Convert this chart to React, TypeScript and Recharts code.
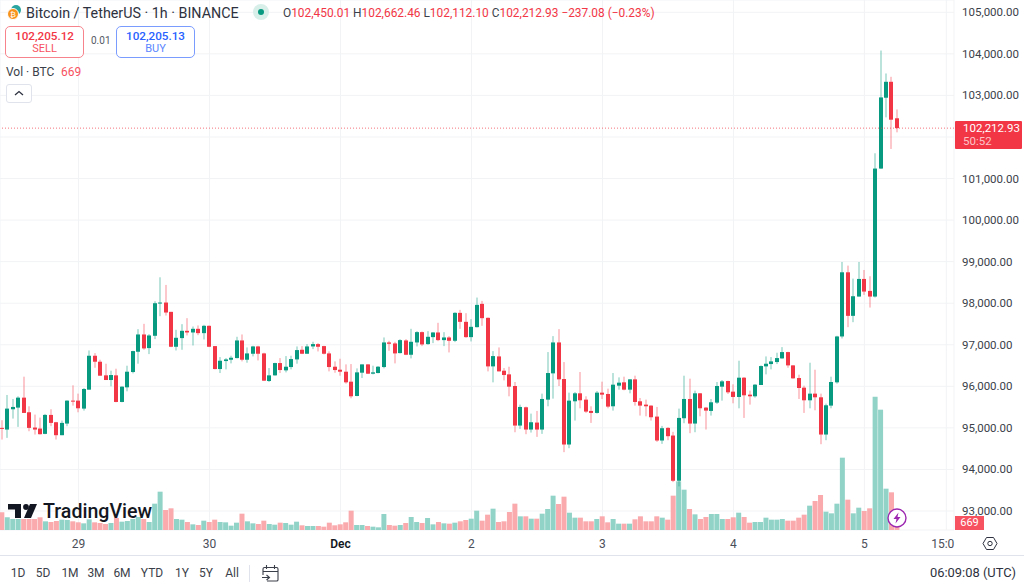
import React from 'react';
import { ComposedChart, Bar, Cell, XAxis, YAxis, CartesianGrid, ReferenceLine } from 'recharts';

// hourly candles, 28 Nov 10:00 -> 5 Dec 06:00 UTC
const opens = [
  95000, 94960, 95448, 95488, 95728, 95376, 95008, 94984, 94856, 95312,
  95136, 94824, 95104, 95656, 95656, 95464, 95920, 96736, 96592, 96264,
  96152, 96264, 95624, 95976, 96344, 96832, 97248, 96920, 97216, 97992,
  98016, 97792, 96952, 97160, 97336, 97296, 97384, 97280, 97456, 96968,
  96416, 96608, 96640, 96680, 97104, 96640, 96784, 96960, 96792, 96128,
  96264, 96560, 96384, 96464, 96648, 96880, 96784, 96960, 97016, 96968,
  96792, 96472, 96400, 96352, 96112, 95768, 96328, 96528, 96304, 96320,
  96464, 97056, 97032, 96800, 97104, 96760, 97056, 97304, 97016, 97184,
  97296, 97112, 97176, 97096, 97768, 97552, 97184, 97424, 97984, 97648,
  96480, 96720, 96376, 96288, 96008, 95056, 95496, 94960, 95128, 94960,
  95680, 96312, 97056, 96176, 94600, 95640, 95832, 95680, 95408, 95360,
  95848, 95816, 95520, 96016, 96096, 95920, 96168, 95640, 95560, 95536,
  95272, 94696, 95000, 94816, 93728, 95232, 95696, 95104, 95832, 95488,
  95408, 95608, 95992, 96128, 95872, 95744, 96208, 95800, 95760, 96032,
  96480, 96536, 96584, 96672, 96824, 96504, 96200, 95968, 95664, 95824,
  95736, 94840, 95536, 96096, 97200, 98744, 97696, 98160, 98584, 98296,
  98160, 101240, 102944, 103328, 102450.01,
];
const closes = [
  94976, 95464, 95504, 95728, 95360, 95000, 94960, 94848, 95312, 95120,
  94824, 95120, 95656, 95632, 95472, 95936, 96736, 96592, 96256, 96152,
  96272, 95624, 95992, 96352, 96848, 97248, 96912, 97224, 98000, 98016,
  97776, 96952, 97168, 97336, 97296, 97384, 97280, 97456, 96952, 96416,
  96616, 96648, 96688, 97104, 96640, 96792, 96960, 96784, 96136, 96264,
  96560, 96392, 96472, 96656, 96872, 96784, 96960, 97016, 96952, 96784,
  96464, 96392, 96352, 96096, 95760, 96336, 96528, 96304, 96336, 96472,
  97056, 97024, 96792, 97112, 96760, 97072, 97304, 97008, 97192, 97296,
  97112, 97176, 97096, 97768, 97552, 97184, 97432, 97960, 97640, 96480,
  96728, 96360, 96272, 95992, 95056, 95504, 94960, 95136, 94960, 95696,
  96320, 97056, 96168, 94600, 95656, 95832, 95664, 95392, 95360, 95848,
  95800, 95512, 96040, 96088, 95920, 96168, 95624, 95536, 95520, 95256,
  94696, 94992, 94800, 93728, 95240, 95696, 95104, 95832, 95472, 95416,
  95616, 96008, 96120, 95856, 95744, 96208, 95784, 95760, 96040, 96488,
  96544, 96600, 96680, 96824, 96504, 96192, 95960, 95664, 95824, 95736,
  94840, 95544, 96104, 97200, 98744, 97696, 98168, 98584, 98280, 98160,
  101240, 102952, 103328, 102416, 102212.93,
];
const highs = [
  95184, 95792, 95696, 95760, 96232, 95520, 95320, 95248, 95336, 95448,
  95144, 95176, 95664, 96024, 95824, 95960, 96864, 96800, 96640, 96544,
  96376, 96424, 96000, 96496, 96856, 97376, 97504, 97256, 98048, 98624,
  98440, 97792, 97360, 97496, 97640, 97440, 97464, 97480, 97464, 96968,
  96704, 96680, 96736, 97192, 97248, 96936, 96976, 96976, 96808, 96440,
  96568, 96680, 96728, 96736, 96960, 96968, 97016, 97072, 97040, 96976,
  96840, 96600, 96664, 96528, 96536, 96432, 96528, 96536, 96496, 96488,
  97176, 97096, 97072, 97136, 97136, 97384, 97328, 97320, 97328, 97304,
  97528, 97304, 97208, 97784, 97840, 97760, 97616, 98136, 98056, 97656,
  96848, 96936, 96440, 96472, 96104, 95560, 95512, 95344, 95408, 95824,
  96824, 97208, 97376, 96584, 95848, 95864, 96344, 95760, 95520, 95888,
  96112, 95944, 96320, 96216, 96232, 96176, 96256, 95720, 95680, 95544,
  95504, 95048, 95016, 94904, 95464, 96256, 96184, 95896, 95840, 95504,
  95696, 96104, 96152, 96136, 96048, 96616, 96224, 95896, 96056, 96504,
  96720, 96704, 96808, 96944, 96832, 96512, 96280, 96016, 96568, 96400,
  95824, 95584, 96232, 97216, 98992, 98904, 98592, 98992, 98800, 98648,
  101608, 104080, 103528, 103448, 102662.46,
];
const lows = [
  94720, 94760, 95224, 95024, 95360, 94920, 94840, 94840, 94848, 95040,
  94720, 94824, 95040, 95536, 95376, 95416, 95920, 96448, 96256, 96152,
  96000, 95616, 95616, 95880, 96312, 96544, 96880, 96776, 97136, 97688,
  97704, 96944, 96864, 96880, 97224, 96984, 97232, 97128, 96944, 96408,
  96320, 96408, 96552, 96672, 96600, 96568, 96720, 96624, 96128, 96104,
  96256, 96320, 96336, 96408, 96544, 96776, 96784, 96896, 96840, 96768,
  96360, 96328, 96256, 96064, 95712, 95760, 96200, 96296, 96288, 96312,
  96432, 96856, 96552, 96792, 96752, 96672, 96960, 96968, 97000, 97040,
  97088, 96968, 96816, 97064, 97384, 97168, 97080, 97416, 97456, 96360,
  96096, 96360, 96144, 95760, 94896, 94976, 94848, 94888, 94784, 94856,
  95520, 95704, 96008, 94416, 94512, 95176, 95472, 95360, 95120, 95344,
  95696, 95472, 95416, 95920, 95904, 95832, 95536, 95296, 95280, 95176,
  94664, 94616, 94704, 93696, 93592, 95112, 94872, 94896, 95280, 94960,
  95296, 95576, 95656, 95816, 95592, 95472, 95240, 95560, 95728, 96032,
  96288, 96408, 96536, 96664, 96448, 96184, 95696, 95360, 95472, 95424,
  94608, 94704, 95472, 96064, 97152, 97424, 97544, 98160, 98200, 97896,
  98136, 101232, 102472, 101712, 102112.1,
];
const volumes = [
  1696, 1216, 1056, 1056, 1056, 1056, 1056, 1216, 832, 768,
  864, 992, 960, 832, 736, 640, 1024, 736, 672, 576,
  672, 1152, 800, 864, 1056, 1248, 1056, 768, 2528, 3680,
  1920, 2080, 1056, 992, 768, 544, 480, 896, 768, 992,
  768, 736, 416, 704, 1568, 832, 640, 576, 896, 576,
  512, 704, 672, 512, 800, 448, 384, 384, 384, 320,
  704, 448, 544, 736, 1856, 480, 480, 384, 320, 256,
  1536, 480, 416, 480, 672, 1248, 768, 672, 1152, 544,
  768, 640, 608, 704, 832, 960, 1088, 1856, 896, 1472,
  2048, 768, 832, 1728, 2528, 1312, 1312, 1088, 1088, 1568,
  2016, 3296, 2496, 3200, 1664, 1184, 1184, 832, 832, 1056,
  1312, 736, 1056, 608, 608, 608, 1024, 1312, 832, 832,
  1312, 1184, 992, 3296, 4672, 3872, 2016, 1504, 1056, 1248,
  1536, 1536, 1056, 1056, 1216, 1664, 1248, 704, 768, 768,
  1184, 992, 992, 1056, 896, 896, 1184, 1472, 2336, 2784,
  3360, 1760, 1600, 2528, 6944, 2912, 1600, 2144, 1824, 2080,
  12800, 11552, 3968, 3616, 669,
];
const priceTicks = [93000, 94000, 95000, 96000, 97000, 98000, 99000, 100000, 101000, 102000, 103000, 104000, 105000];
const timeTicks = [14, 38, 62, 86, 110, 134, 158, 173];
const timeLabels = ['29', '30', 'Dec', '2', '3', '4', '5', '15:0'];
const rangeButtons = ['1D', '5D', '1M', '3M', '6M', 'YTD', '1Y', '5Y', 'All'];
const rangeCentres = [18, 43, 70, 96, 122, 152, 182, 206, 232];

const lastPrice = 102212.93;
const UP = '#089981';
const DOWN = '#F23645';
const FONT = 'Roboto, sans-serif';

const data = opens.map((open, i) => ({
  i,
  open,
  close: closes[i],
  high: highs[i],
  low: lows[i],
  range: [lows[i], highs[i]],
  volume: volumes[i],
}));

const Candle = (props: any) => {
  const { x, y, width, height, payload } = props;
  const { open, close, high, low } = payload;
  const color = close >= open ? UP : DOWN;
  const perUnit = height / (high - low);
  const top = y + (high - Math.max(open, close)) * perUnit;
  const bodyH = Math.max(1, Math.abs(open - close) * perUnit);
  const cx = Math.round(x + width / 2);
  return (
    <g>
      <rect x={cx - 0.5} y={y} width={1} height={height} fill={color} fillOpacity={0.55} />
      <rect x={cx - 2} y={top} width={4} height={bodyH} fill={color} />
    </g>
  );
};

const TimeTick = (props: any) => {
  const { x, y, payload } = props;
  const label = timeLabels[timeTicks.indexOf(payload.value)];
  const isMonth = label === 'Dec';
  const clipped = label === '15:0';
  return (
    <text
      x={clipped ? x + 8 : x}
      y={y + 10}
      textAnchor={clipped ? 'end' : 'middle'}
      fontSize={12}
      fontFamily={FONT}
      fontWeight={isMonth ? 600 : 400}
      fill={isMonth ? '#131722' : '#4a4e59'}
    >
      {label}
    </text>
  );
};

// the 102,000 label sits behind the last price tag, only its gridline shows
const PriceTick = (props: any) => {
  const { x, y, payload } = props;
  if (payload.value === 102000) return <g />;
  return (
    <text x={x} y={y} dy={4} fontSize={11.5} fontFamily={FONT} fill="#3b3f4a">
      {payload.value.toLocaleString('en-US', { minimumFractionDigits: 2 })}
    </text>
  );
};

const Txt = ({ x, y, color = '#3b3f4a', size = 12, weight = 400, anchor, children }: any) => (
  <div
    style={{
      position: 'absolute',
      left: anchor === 'middle' ? x - 100 : x,
      width: anchor === 'middle' ? 200 : undefined,
      textAlign: anchor === 'middle' ? 'center' : 'left',
      top: y - 10,
      height: 20,
      lineHeight: '20px',
      fontSize: size,
      fontWeight: weight,
      color,
      whiteSpace: 'nowrap',
    }}
  >
    {children}
  </div>
);

const Box = ({ x, y, w, h, style }: any) => (
  <div style={{ position: 'absolute', left: x, top: y, width: w, height: h, boxSizing: 'border-box', ...style }} />
);

const Overlay = () => (
  <div style={{ position: 'absolute', left: 0, top: 0, width: 1024, height: 588, fontFamily: FONT, pointerEvents: 'none' }}>
    {/* header */}
    <svg style={{ position: 'absolute', left: 5, top: 3 }} width={20} height={18}>
      <circle cx={11} cy={7} r={5} fill="#2aa5a0" />
      <circle cx={8} cy={11} r={5.5} fill="#F7931A" stroke="#fff" strokeWidth={1} />
      <text x={8} y={14} fontSize={8} fill="#fff" textAnchor="middle" fontFamily={FONT}>₿</text>
    </svg>
    <Txt x={26} y={12.5} size={14.3} color="#2e3240">Bitcoin / TetherUS · 1h · BINANCE</Txt>
    <Box x={253} y={4} w={16} h={16} style={{ borderRadius: 8, background: '#d8efe9' }} />
    <Box x={258} y={9} w={6} h={6} style={{ borderRadius: 3, background: UP }} />
    <Txt x={283} y={12.5} size={11.9}>
      O<span style={{ color: DOWN }}>102,450.01</span> H<span style={{ color: DOWN }}>102,662.46</span> L<span style={{ color: DOWN }}>102,112.10</span> C<span style={{ color: DOWN }}>102,212.93</span> <span style={{ color: DOWN }}>−237.08 (−0.23%)</span>
    </Txt>

    {/* sell / buy */}
    <Box x={5} y={26} w={79} h={32} style={{ border: '1px solid #F7838C', borderRadius: 5, background: '#fff' }} />
    <Txt x={44.5} y={36} anchor="middle" color={DOWN} weight={500} size={11.7}>102,205.12</Txt>
    <Txt x={44.5} y={49} anchor="middle" color="#F7525F" size={11}>SELL</Txt>
    <Txt x={91} y={41} color="#555a66" size={10}>0.01</Txt>
    <Box x={116} y={26} w={79} h={32} style={{ border: '1px solid #7b9cff', borderRadius: 5, background: '#fff' }} />
    <Txt x={155.5} y={36} anchor="middle" color="#2962FF" weight={500} size={11.7}>102,205.13</Txt>
    <Txt x={155.5} y={49} anchor="middle" color="#5b86ff" size={11}>BUY</Txt>

    {/* volume legend */}
    <Txt x={6} y={72} size={12} color="#3b3f4a">Vol · BTC</Txt>
    <Txt x={61} y={72} size={12} color="#F7525F">669</Txt>
    <Box x={6} y={84} w={26} h={19} style={{ border: '1px solid #e0e3eb', borderRadius: 3, background: '#fff' }} />
    <svg style={{ position: 'absolute', left: 14, top: 90 }} width={10} height={7}>
      <path d="M1 5 L5 1.5 L9 5" fill="none" stroke="#2e3240" strokeWidth={1.3} />
    </svg>

    {/* TradingView logo */}
    <svg style={{ position: 'absolute', left: 8, top: 503 }} width={29} height={16}>
      <path d="M0 1 H13 V15 H7 V6.5 H0 Z" fill="#131722" />
      <circle cx={18} cy={4} r={2.9} fill="#131722" />
      <path d="M21 15 L27 1 H34 L28 15 Z" fill="#131722" transform="translate(-5 0)" />
    </svg>
    <Txt x={43} y={512} size={19.6} weight={500} color="#131722">TradingView</Txt>

    {/* last price tags */}
    <div style={{ position: 'absolute', left: 955, top: 121, width: 67, height: 28, background: DOWN, borderRadius: 1 }} />
    <Txt x={963} y={128} size={11.5} color="#fff">102,212.93</Txt>
    <Txt x={963} y={141} size={11.5} color="#fdc3c8">50:52</Txt>
    <div style={{ position: 'absolute', left: 955, top: 516, width: 29, height: 14, background: '#F7525F' }} />
    <Txt x={969.5} y={523} size={11} color="#fff" anchor="middle">669</Txt>

    {/* lightning badge */}
    <svg style={{ position: 'absolute', left: 887, top: 508 }} width={20} height={20}>
      <circle cx={10} cy={10} r={9} fill="#fff" stroke="#9C27B0" strokeWidth={1.4} />
      <path d="M11.5 4.5 L6.5 11 H9.5 L8.5 15.5 L13.5 9 H10.5 Z" fill="#9C27B0" />
    </svg>

    {/* settings */}
    <svg style={{ position: 'absolute', left: 982, top: 536 }} width={16} height={15}>
      <path d="M4.5 1.5 H11.5 L15 7.5 L11.5 13.5 H4.5 L1 7.5 Z" fill="none" stroke="#2e3240" strokeWidth={1} />
      <circle cx={8} cy={7.5} r={2.2} fill="none" stroke="#2e3240" strokeWidth={1} />
    </svg>

    {/* bottom toolbar */}
    <Box x={0} y={555} w={1024} h={1} style={{ background: '#e0e3eb' }} />
    {rangeButtons.map((b, k) => (
      <Txt key={b} x={rangeCentres[k]} y={573} size={12} anchor="middle" color="#3b3f4a">{b}</Txt>
    ))}
    <Box x={249} y={565} w={1} h={17} style={{ background: '#e0e3eb' }} />
    <svg style={{ position: 'absolute', left: 261, top: 564 }} width={18} height={18}>
      <path d="M6 3.5 H15.5 Q17 3.5 17 5 V16 Q17 17 15.5 17 H6 M2 11 V5 Q2 3.5 3.5 3.5 H6 M2 7.5 H17 M5.5 1 V5 M13.5 1 V5 M1 13.5 H8 M5.5 11 L8.5 13.5 L5.5 16" fill="none" stroke="#3b3f4a" strokeWidth={1.1} />
    </svg>
    <Txt x={930} y={573} size={12.9} color="#2e3240">06:09:08 (UTC)</Txt>
  </div>
);

export default function App() {
  return (
    <div style={{ position: 'absolute', left: 0, top: 0, width: 1024, height: 588, overflow: 'hidden', background: '#fff' }}>
      <ComposedChart width={1024} height={588} data={data} margin={{ top: 0, right: 0, bottom: 0, left: 0 }}>
        <CartesianGrid stroke="#f2f3f5" strokeWidth={1} yAxisId="price" />
        <XAxis
          dataKey="i"
          type="number"
          domain={[-0.377, 174.41]}
          allowDataOverflow
          ticks={timeTicks}
          interval={0}
          height={58}
          tickLine={false}
          axisLine={false}
          tick={<TimeTick />}
        />
        <XAxis xAxisId="vol" dataKey="i" type="number" domain={[-0.377, 174.41]} allowDataOverflow hide height={58} />
        <YAxis
          yAxisId="price"
          orientation="right"
          width={70}
          domain={[92543, 105296]}
          allowDataOverflow
          ticks={priceTicks}
          interval={0}
          tickLine={false}
          axisLine={false}
          tickMargin={2}
          tick={<PriceTick />}
        />
        <YAxis yAxisId="volume" hide domain={[0, 50880]} allowDataOverflow />
        <Bar xAxisId="vol" yAxisId="volume" dataKey="volume" barSize={5} isAnimationActive={false}>
          {data.map(d => (
            <Cell key={d.i} fill={d.close >= d.open ? '#92d3c8' : '#faa9ac'} />
          ))}
        </Bar>
        <Bar yAxisId="price" dataKey="range" barSize={5} shape={<Candle />} isAnimationActive={false} />
        <ReferenceLine yAxisId="price" y={lastPrice} stroke={DOWN} strokeOpacity={0.7} strokeDasharray="1 2" />
      </ComposedChart>
      <Overlay />
    </div>
  );
}
